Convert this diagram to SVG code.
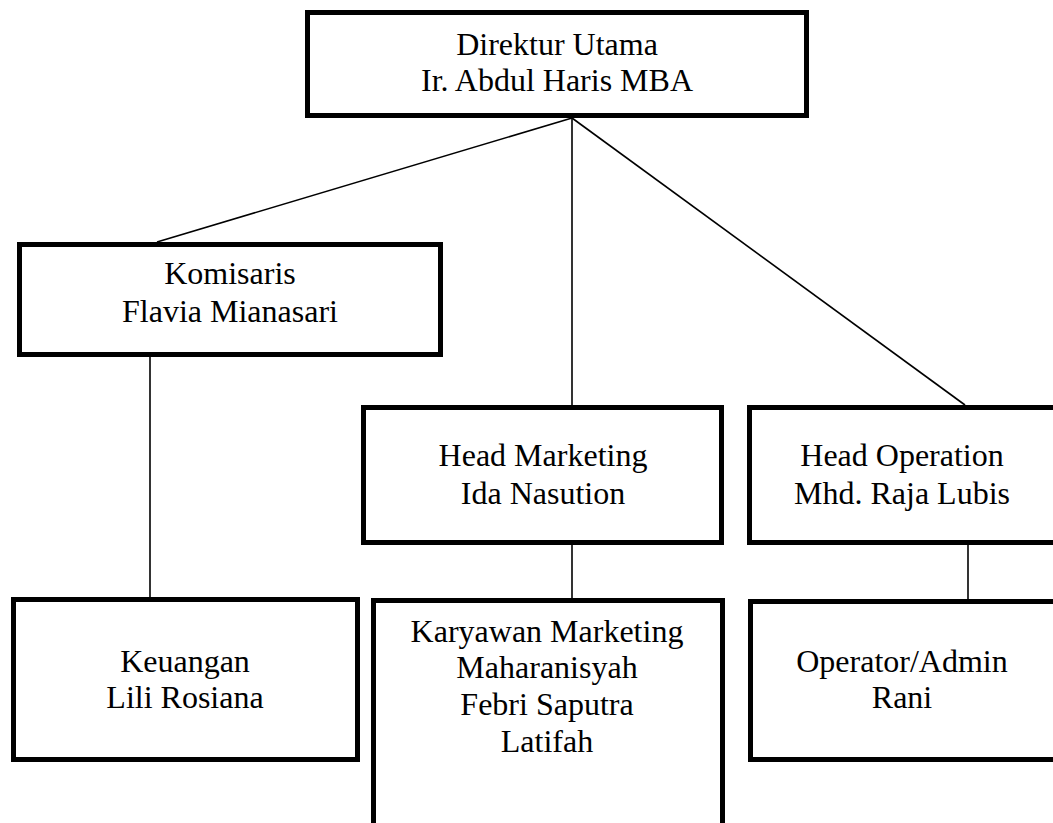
<svg xmlns="http://www.w3.org/2000/svg" width="1053" height="823" viewBox="0 0 1053 823">
<style>
.box{fill:#fff;stroke:#000;stroke-width:5}
.ln{stroke:#000;stroke-width:1.6;fill:none}
.t{font-family:'Liberation Serif','Times New Roman','DejaVu Serif',serif;font-size:32px;fill:#000;text-anchor:middle}
</style>
<rect width="1053" height="823" fill="#fff"/>
<g id="connectors">
<line class="ln" x1="572" y1="118" x2="157" y2="242"/>
<line class="ln" x1="572" y1="118" x2="572" y2="405"/>
<line class="ln" x1="572" y1="118" x2="965" y2="405"/>
<line class="ln" x1="150" y1="357" x2="150" y2="597"/>
<line class="ln" x1="572" y1="545" x2="572" y2="598"/>
<line class="ln" x1="968" y1="545" x2="968" y2="599"/>
</g>
<g id="direktur">
<rect class="box" x="307.5" y="12.5" width="499" height="103"/>
<text class="t" font-family="Liberation Serif, serif" x="557" y="55">Direktur Utama</text>
<text class="t" font-family="Liberation Serif, serif" x="557" y="91">Ir. Abdul Haris MBA</text>
</g>
<g id="komisaris">
<rect class="box" x="19.5" y="244.5" width="421" height="110"/>
<text class="t" font-family="Liberation Serif, serif" x="230" y="284">Komisaris</text>
<text class="t" font-family="Liberation Serif, serif" x="230" y="322">Flavia Mianasari</text>
</g>
<g id="head-marketing">
<rect class="box" x="363.5" y="407.5" width="358" height="135"/>
<text class="t" font-family="Liberation Serif, serif" x="543" y="466">Head Marketing</text>
<text class="t" font-family="Liberation Serif, serif" x="543" y="504">Ida Nasution</text>
</g>
<g id="head-operation">
<rect class="box" x="749.5" y="407.5" width="330" height="135"/>
<text class="t" font-family="Liberation Serif, serif" x="902" y="466">Head Operation</text>
<text class="t" font-family="Liberation Serif, serif" x="902" y="504">Mhd. Raja Lubis</text>
</g>
<g id="keuangan">
<rect class="box" x="13.5" y="599.5" width="344" height="160"/>
<text class="t" font-family="Liberation Serif, serif" x="185" y="672">Keuangan</text>
<text class="t" font-family="Liberation Serif, serif" x="185" y="708">Lili Rosiana</text>
</g>
<g id="karyawan-marketing">
<rect class="box" x="373.5" y="600.5" width="349" height="250"/>
<text class="t" font-family="Liberation Serif, serif" x="547" y="642">Karyawan Marketing</text>
<text class="t" font-family="Liberation Serif, serif" x="547" y="678">Maharanisyah</text>
<text class="t" font-family="Liberation Serif, serif" x="547" y="715">Febri Saputra</text>
<text class="t" font-family="Liberation Serif, serif" x="547" y="752">Latifah</text>
</g>
<g id="operator-admin">
<rect class="box" x="750.5" y="601.5" width="330" height="158"/>
<text class="t" font-family="Liberation Serif, serif" x="902" y="672">Operator/Admin</text>
<text class="t" font-family="Liberation Serif, serif" x="902" y="708">Rani</text>
</g>
</svg>
